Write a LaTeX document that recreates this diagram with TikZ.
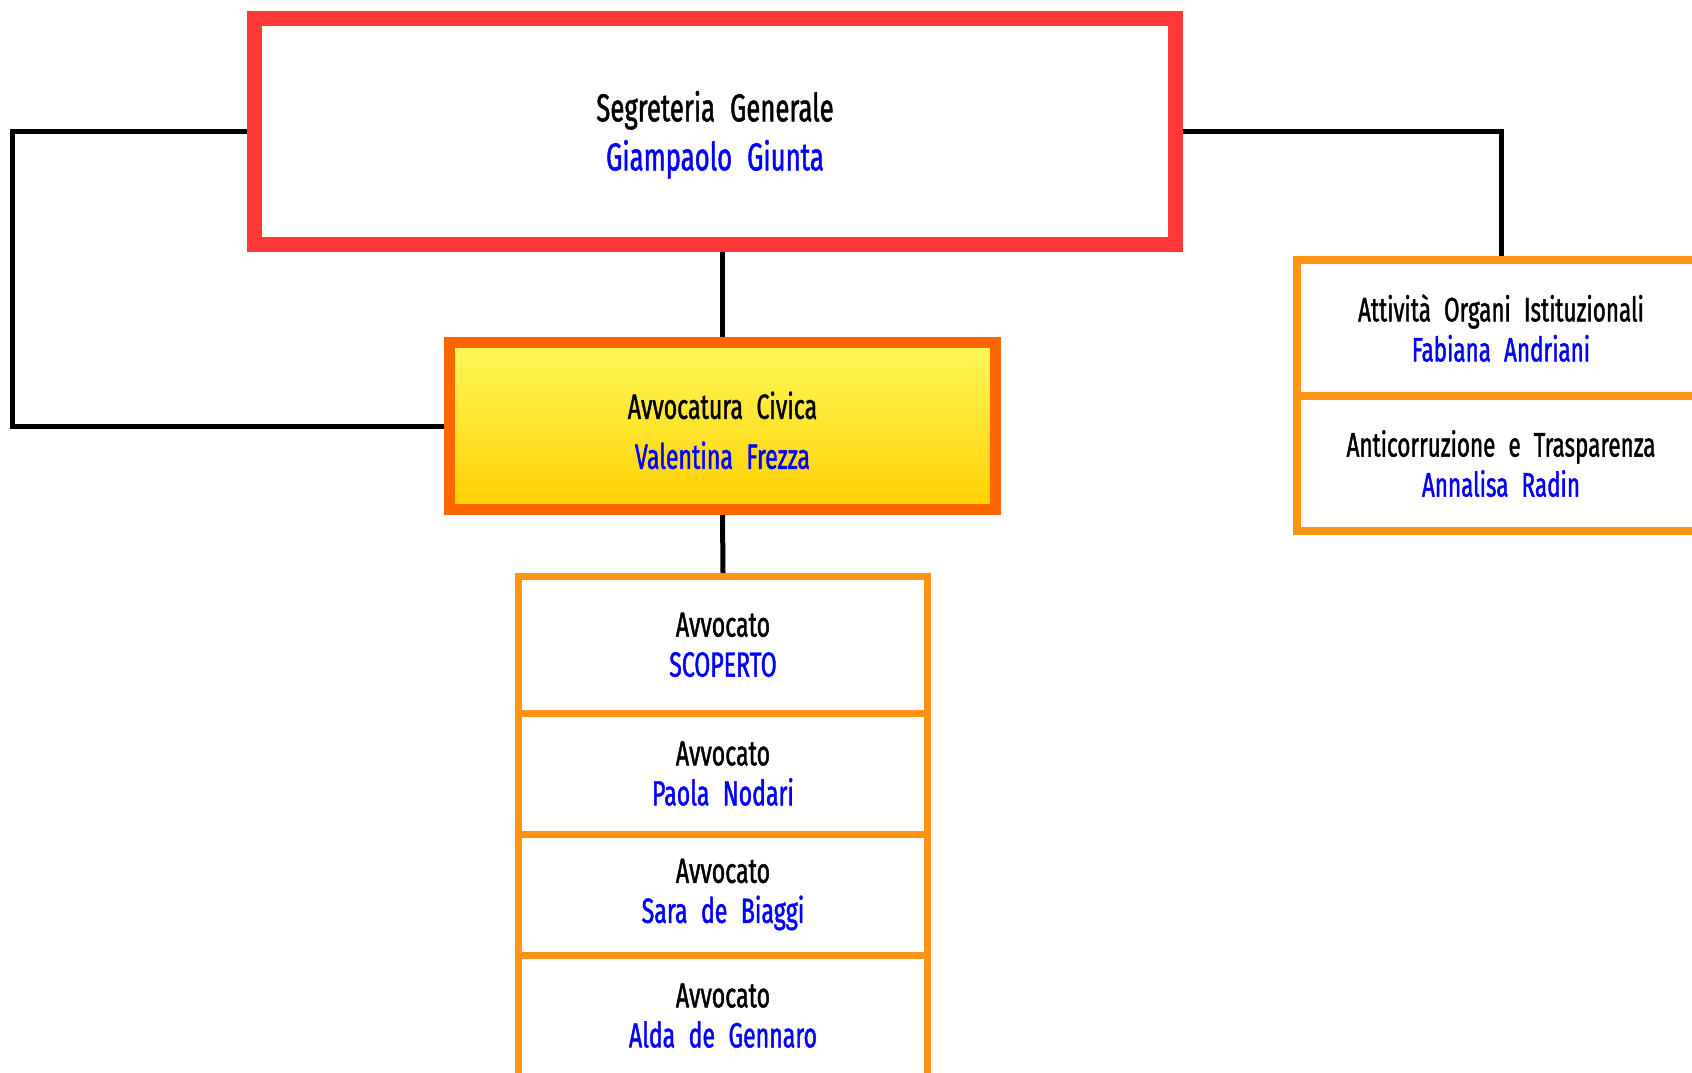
\documentclass[tikz,border=0pt]{standalone}
\usepackage{fontspec}
\setmainfont{Fira Sans}[FakeStretch=0.66, WordSpace=2.2, FakeBold=1.2]
\usepackage{xcolor}
\usepackage{tikz}
\usetikzlibrary{positioning}

\definecolor{segred}{RGB}{255,56,56}
\definecolor{civicorange}{RGB}{255,102,0}
\definecolor{officeorange}{RGB}{255,148,20}
\definecolor{nameblue}{RGB}{0,0,255}
\definecolor{civictop}{RGB}{255,248,90}
\definecolor{civicbottom}{RGB}{255,208,0}

\newcommand{\orgline}[3][0pt]{\rule{0pt}{#1}#2\\\textcolor{nameblue}{#3}}

\begin{document}
\begin{tikzpicture}[x=1pt, y=-1pt,
  orgbox/.style={draw, rectangle, inner sep=0pt, align=center},
  segbox/.style={orgbox, draw=segred, line width=15pt, fill=white, minimum width=921pt, minimum height=226pt, font=\fontsize{39}{49}\selectfont},
  civicbox/.style={orgbox, draw=civicorange, line width=11pt, top color=civictop, bottom color=civicbottom, minimum width=546pt, minimum height=167pt, font=\fontsize{35}{50}\selectfont},
  officebox/.style={orgbox, draw=officeorange, line width=8pt, fill=white, minimum width=408pt, font=\fontsize{34}{40}\selectfont},
  lawyerbox/.style={orgbox, draw=officeorange, line width=7pt, fill=white, minimum width=409pt, font=\fontsize{35}{40}\selectfont},
  link/.style={draw=black, line width=5pt}]
\useasboundingbox (0,0) rectangle (1692,1072);
\clip (0,0) rectangle (1692,1072);

\node[segbox] (segreteria) at (715,131.5) {\orgline[37pt]{Segreteria Generale}{Giampaolo Giunta}};
\node[civicbox] (civica) at (722.5,426) {\orgline[36pt]{Avvocatura Civica}{Valentina Frezza}};

\node[officebox, minimum height=136pt] (organi) at (1501,328) {\orgline{Attività Organi Istituzionali}{Fabiana Andriani}};
\node[officebox, minimum height=135pt] (anticorruzione) at (1501,463.5) {\orgline{Anticorruzione e Trasparenza}{Annalisa Radin}};

\node[lawyerbox, minimum height=136.5pt] (avvocato_1) at (723,644.75) {\orgline{Avvocato}{SCOPERTO}};
\node[lawyerbox, minimum height=121pt] (avvocato_2) at (723,773.5) {\orgline{Avvocato}{Paola Nodari}};
\node[lawyerbox, minimum height=121pt] (avvocato_3) at (723,894.5) {\orgline{Avvocato}{Sara de Biaggi}};
\node[lawyerbox, minimum height=121pt] (avvocato_4) at (723,1015.5) {\orgline{Avvocato}{Alda de Gennaro}};

\coordinate (leftbend) at (12,131.5);
\draw[link] (segreteria.west) -- (leftbend) |- (civica.west);
\draw[link] (segreteria.east) -| (organi.north);
\draw[link] (civica.north |- segreteria.south) -- (civica.north);
\draw[link] (civica.south) -- (avvocato_1.north);

\end{tikzpicture}
\end{document}
